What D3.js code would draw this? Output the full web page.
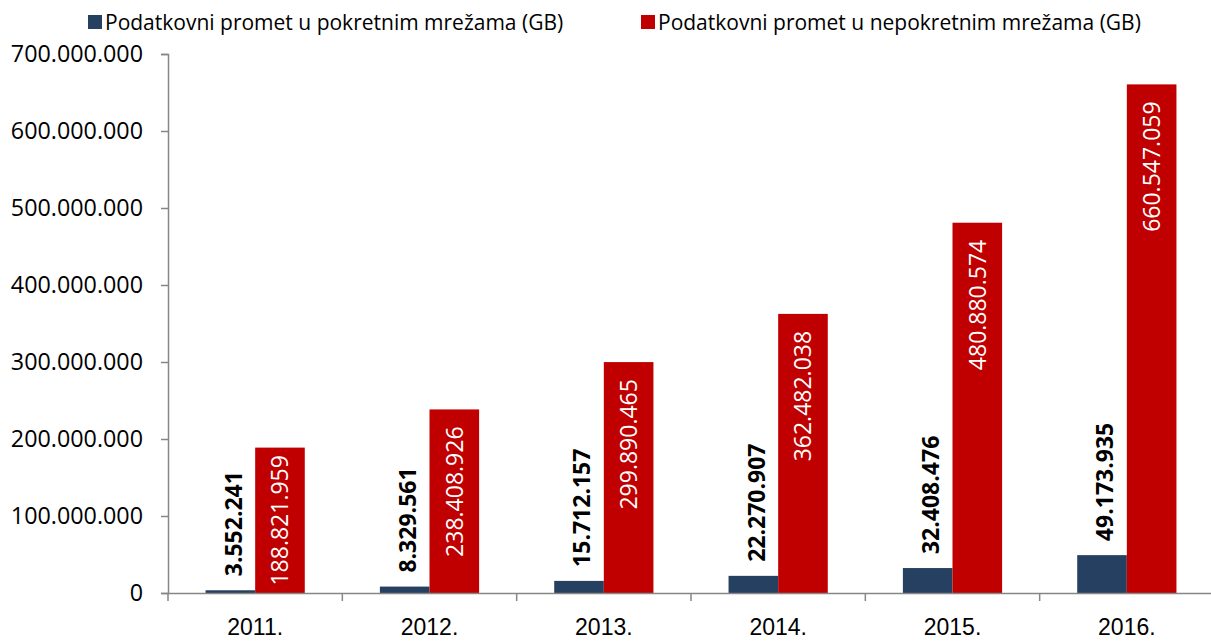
<!DOCTYPE html>
<html>
<head>
<meta charset="utf-8">
<script src="https://cdn.jsdelivr.net/npm/d3@7"></script>
<style>
  html, body { margin: 0; padding: 0; background: #fff; }
  svg { display: block; font-family: "Open Sans", sans-serif; }
</style>
</head>
<body>
<svg id="chart" width="1211" height="641"></svg>
<script>
const categories = ["2011.", "2012.", "2013.", "2014.", "2015.", "2016."];
const seriesNames = ["Podatkovni promet u pokretnim mrežama (GB)", "Podatkovni promet u nepokretnim mrežama (GB)"];
const mobileValues = [3552241, 8329561, 15712157, 22270907, 32408476, 49173935];
const fixedValues = [188821959, 238408926, 299890465, 362482038, 480880574, 660547059];
const yTicks = [0, 100000000, 200000000, 300000000, 400000000, 500000000, 600000000, 700000000];
const colors = ["#254061", "#C00000"];

const svg = d3.select("#chart");
const margin = { left: 168, right: -3, top: 54, bottom: 48 };
const W = 1211, H = 641;

const fmt = v => d3.format(",")(v).replace(/,/g, ".");

const x = d3.scaleBand().domain(categories).range([margin.left, W - margin.right]).paddingInner(0).paddingOuter(0);
const xs = d3.scaleBand().domain(seriesNames).range([0, x.bandwidth()]).paddingInner(0).paddingOuter(0.757);
const y = d3.scaleLinear().domain([0, 700000000]).range([H - margin.bottom, margin.top]);

const axisColor = "#868686";

// Y axis
const yAxis = svg.append("g").attr("transform", `translate(${margin.left},0)`)
  .call(d3.axisLeft(y).tickValues(yTicks).tickSize(7).tickPadding(18).tickFormat(fmt));
yAxis.select(".domain").attr("stroke", axisColor).attr("stroke-width", 1.5);
yAxis.selectAll(".tick line").attr("stroke", axisColor).attr("stroke-width", 1.5);
yAxis.selectAll(".tick text").attr("font-size", 23.3).attr("fill", "#000").attr("font-family", "Open Sans");

const data = categories.map((c, i) => ({ cat: c, vals: [mobileValues[i], fixedValues[i]] }));

const groups = svg.append("g").selectAll("g").data(data).join("g")
  .attr("transform", d => `translate(${x(d.cat)},0)`);

groups.selectAll("rect").data(d => d.vals.map((v, k) => ({ v, k }))).join("rect")
  .attr("x", d => xs(seriesNames[d.k]))
  .attr("width", xs.bandwidth())
  .attr("y", d => y(d.v))
  .attr("height", d => y(0) - y(d.v))
  .attr("fill", d => colors[d.k]);

// X axis
const xAxis = svg.append("g").attr("transform", `translate(0,${y(0)})`)
  .call(d3.axisBottom(x).tickSize(0).tickPadding(0).tickFormat(""));
xAxis.select(".domain").attr("stroke", axisColor).attr("stroke-width", 1.5);
xAxis.selectAll(".tick").remove();
const boundaries = categories.map(c => x(c)).concat([x(categories[categories.length - 1]) + x.bandwidth()]);
xAxis.selectAll("line.bt").data(boundaries).join("line").attr("class", "bt")
  .attr("x1", d => d).attr("x2", d => d).attr("y1", 0).attr("y2", 8)
  .attr("stroke", axisColor).attr("stroke-width", 1.5);
xAxis.selectAll("text.cl").data(categories).join("text").attr("class", "cl")
  .attr("x", d => x(d) + x.bandwidth() / 2).attr("y", 42)
  .attr("text-anchor", "middle").attr("font-size", 23).attr("fill", "#000")
  .text(d => d);

// Data labels
const fs = 23;
groups.each(function (d) {
  const g = d3.select(this);
  const bx = xs(seriesNames[0]) + xs.bandwidth() / 2 + 3;
  const by = y(d.vals[0]) - 14;
  g.append("text")
    .attr("transform", `translate(${bx},${by}) rotate(-90)`)
    .attr("dy", "0.36em").attr("text-anchor", "start")
    .attr("font-size", fs).attr("font-weight", "bold").attr("fill", "#000")
    .text(fmt(d.vals[0]));
  const rx = xs(seriesNames[1]) + xs.bandwidth() / 2;
  const top = y(d.vals[1]);
  const barH = y(0) - top;
  const t = g.append("text")
    .attr("dy", "0.36em").attr("text-anchor", "end")
    .attr("font-size", fs).attr("fill", "#fff")
    .text(fmt(d.vals[1]));
  const len = t.node().getComputedTextLength();
  const pad = Math.min(17, Math.max(2, (barH - len) / 2));
  t.attr("transform", `translate(${rx},${top + pad}) rotate(-90)`);
});

// Legend
const legend = svg.append("g");
const legendX = [88, 641];
seriesNames.forEach((s, i) => {
  legend.append("rect").attr("x", legendX[i]).attr("y", 15).attr("width", 14).attr("height", 14).attr("fill", colors[i]);
  legend.append("text").attr("x", legendX[i] + 17).attr("y", 29.5)
    .attr("font-size", 21).attr("fill", "#000").text(s);
});
</script>
</body>
</html>
